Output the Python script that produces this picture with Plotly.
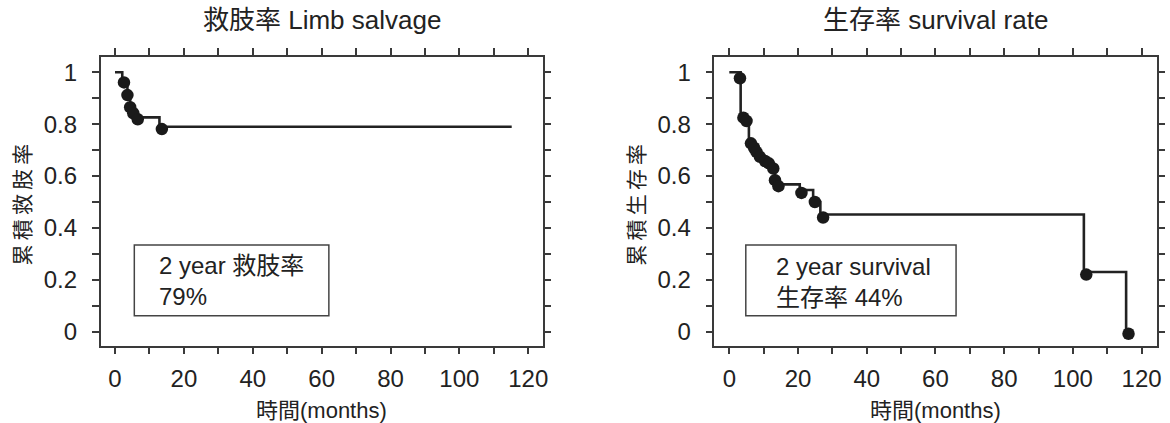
import plotly.graph_objects as go

# ---- data ----
limb_step_t = [0, 2.1, 3.6, 4.4, 5.3, 6.6, 12.9, 115.2]
limb_step_s = [1.0, 0.961, 0.912, 0.865, 0.842, 0.826, 0.79, 0.79]
limb_mark_t = [2.6, 3.6, 4.4, 5.3, 6.6, 13.6]
limb_mark_s = [0.961, 0.912, 0.865, 0.842, 0.819, 0.781]

surv_step_t = [0, 3.3, 5.0, 5.7, 7.2, 7.9, 8.9, 10.4, 11.5, 12.8, 13.3, 14.3, 20.5, 24.4, 26.5, 103.2, 115.5]
surv_step_s = [1.0, 0.825, 0.812, 0.73, 0.709, 0.693, 0.674, 0.658, 0.649, 0.629, 0.584, 0.568, 0.546, 0.50, 0.452, 0.23, 0.0]
surv_mark_t = [3.1, 4.1, 5.0, 6.3, 7.2, 7.9, 8.9, 10.4, 11.5, 12.8, 13.3, 14.3, 21.0, 24.9, 27.3, 103.9, 116.2]
surv_mark_s = [0.977, 0.825, 0.812, 0.726, 0.709, 0.693, 0.674, 0.658, 0.649, 0.629, 0.584, 0.561, 0.535, 0.50, 0.44, 0.22, -0.008]

x_tickvals = list(range(0, 121, 10))
x_ticktext = ["0", "", "20", "", "40", "", "60", "", "80", "", "100", "", "120"]
y_tickvals = [i / 10 for i in range(0, 11)]
y_ticktext = ["0", "", "0.2", "", "0.4", "", "0.6", "", "0.8", "", "1"]

titles = ["救肢率 Limb salvage", "生存率 survival rate"]
y_titles = ["累\u2009積\u2009救\u2009肢\u2009率", "累\u2009積\u2009生\u2009存\u2009率"]
x_title = "時間(months)"
box_texts = ["2 year 救肢率<br>79%", "2 year survival<br>生存率 44%"]

FONT = "Liberation Sans, Arial, Noto Sans CJK JP, sans-serif"
INK = "#222222"
AX = "#3a3a3a"

W, H = 1170, 423
OFF = 0  # body margin removed via post_script


def px(xp):
    return (xp - OFF) / W


def py(yp):
    return 1 - (yp - OFF) / H


fig = go.Figure()
for i, (st, ss, mt, ms) in enumerate([
    (limb_step_t, limb_step_s, limb_mark_t, limb_mark_s),
    (surv_step_t, surv_step_s, surv_mark_t, surv_mark_s),
]):
    xa = "x" if i == 0 else "x2"
    ya = "y" if i == 0 else "y2"
    fig.add_trace(go.Scatter(x=st, y=ss, mode="lines", line=dict(shape="hv", color=INK, width=2.6),
                             xaxis=xa, yaxis=ya, showlegend=False, hoverinfo="skip"))
    fig.add_trace(go.Scatter(x=mt, y=ms, mode="markers", marker=dict(size=12.5, color="#1a1a1a"),
                             xaxis=xa, yaxis=ya, showlegend=False))

axis_common = dict(showline=True, linecolor=AX, linewidth=1.5, mirror="allticks",
                   ticks="outside", ticklen=7, tickwidth=1.5, tickcolor=AX,
                   showgrid=False, zeroline=False, automargin=False,
                   tickfont=dict(family=FONT, size=24, color=INK))

fig.update_layout(
    template="none",
    width=W, height=H,
    margin=dict(l=0, r=0, t=0, b=0),
    paper_bgcolor="white", plot_bgcolor="white",
    xaxis=dict(domain=[px(100.7), px(542.7)], range=[-4.16, 124.2], ticklabelstandoff=4,
               tickmode="array", tickvals=x_tickvals, ticktext=x_ticktext, anchor="y", **axis_common),
    yaxis=dict(domain=[py(345.7), py(56.7)], range=[-0.054, 1.060], ticklabelstandoff=10,
               tickmode="array", tickvals=y_tickvals, ticktext=y_ticktext, anchor="x", **axis_common),
    xaxis2=dict(domain=[px(714.3), px(1156.7)], range=[-4.37, 124.4], ticklabelstandoff=4,
                tickmode="array", tickvals=x_tickvals, ticktext=x_ticktext, anchor="y2", **axis_common),
    yaxis2=dict(domain=[py(345.7), py(56.7)], range=[-0.054, 1.060], ticklabelstandoff=10,
                tickmode="array", tickvals=y_tickvals, ticktext=y_ticktext, anchor="x2", **axis_common),
)

centers = [px((100.7 + 542.7) / 2), px((714.3 + 1156.7) / 2)]
ytitle_x = [px(22.5), px(636.7)]
ann = []
for i in range(2):
    ann.append(dict(text=titles[i], x=centers[i], y=py(20), xref="paper", yref="paper",
                    xanchor="center", yanchor="middle",
                    showarrow=False, font=dict(family=FONT, size=26, color=INK)))
    ann.append(dict(text=x_title, x=centers[i], y=py(410), xref="paper", yref="paper",
                    xanchor="center", yanchor="middle",
                    showarrow=False, font=dict(family=FONT, size=22, color=INK)))
    ann.append(dict(text=y_titles[i], x=ytitle_x[i], y=py(205), xref="paper", yref="paper",
                    xanchor="center", yanchor="middle",
                    textangle=-90, showarrow=False, font=dict(family=FONT, size=21, color=INK)))

# annotation boxes (data coords)
boxes = [dict(x0=5.6, x1=62.1, y0=0.061, y1=0.334, tx=12.1, ty=0.196),
         dict(x0=4.8, x1=66.0, y0=0.061, y1=0.334, tx=13.1, ty=0.19)]
shapes = []
for i, b in enumerate(boxes):
    xr = "x" if i == 0 else "x2"
    yr = "y" if i == 0 else "y2"
    shapes.append(dict(type="rect", xref=xr, yref=yr, x0=b["x0"], x1=b["x1"], y0=b["y0"], y1=b["y1"],
                       line=dict(color="#444444", width=1.5), fillcolor="rgba(0,0,0,0)"))
    ann.append(dict(text=box_texts[i], x=b["tx"], y=b["ty"], xref=xr, yref=yr, xanchor="left",
                    yanchor="middle", align="left", showarrow=False,
                    font=dict(family=FONT, size=24, color=INK)))

fig.update_layout(annotations=ann, shapes=shapes)
fig.write_html("out.html", config={"displayModeBar": False},
               post_script="document.body.style.margin='0px';")
